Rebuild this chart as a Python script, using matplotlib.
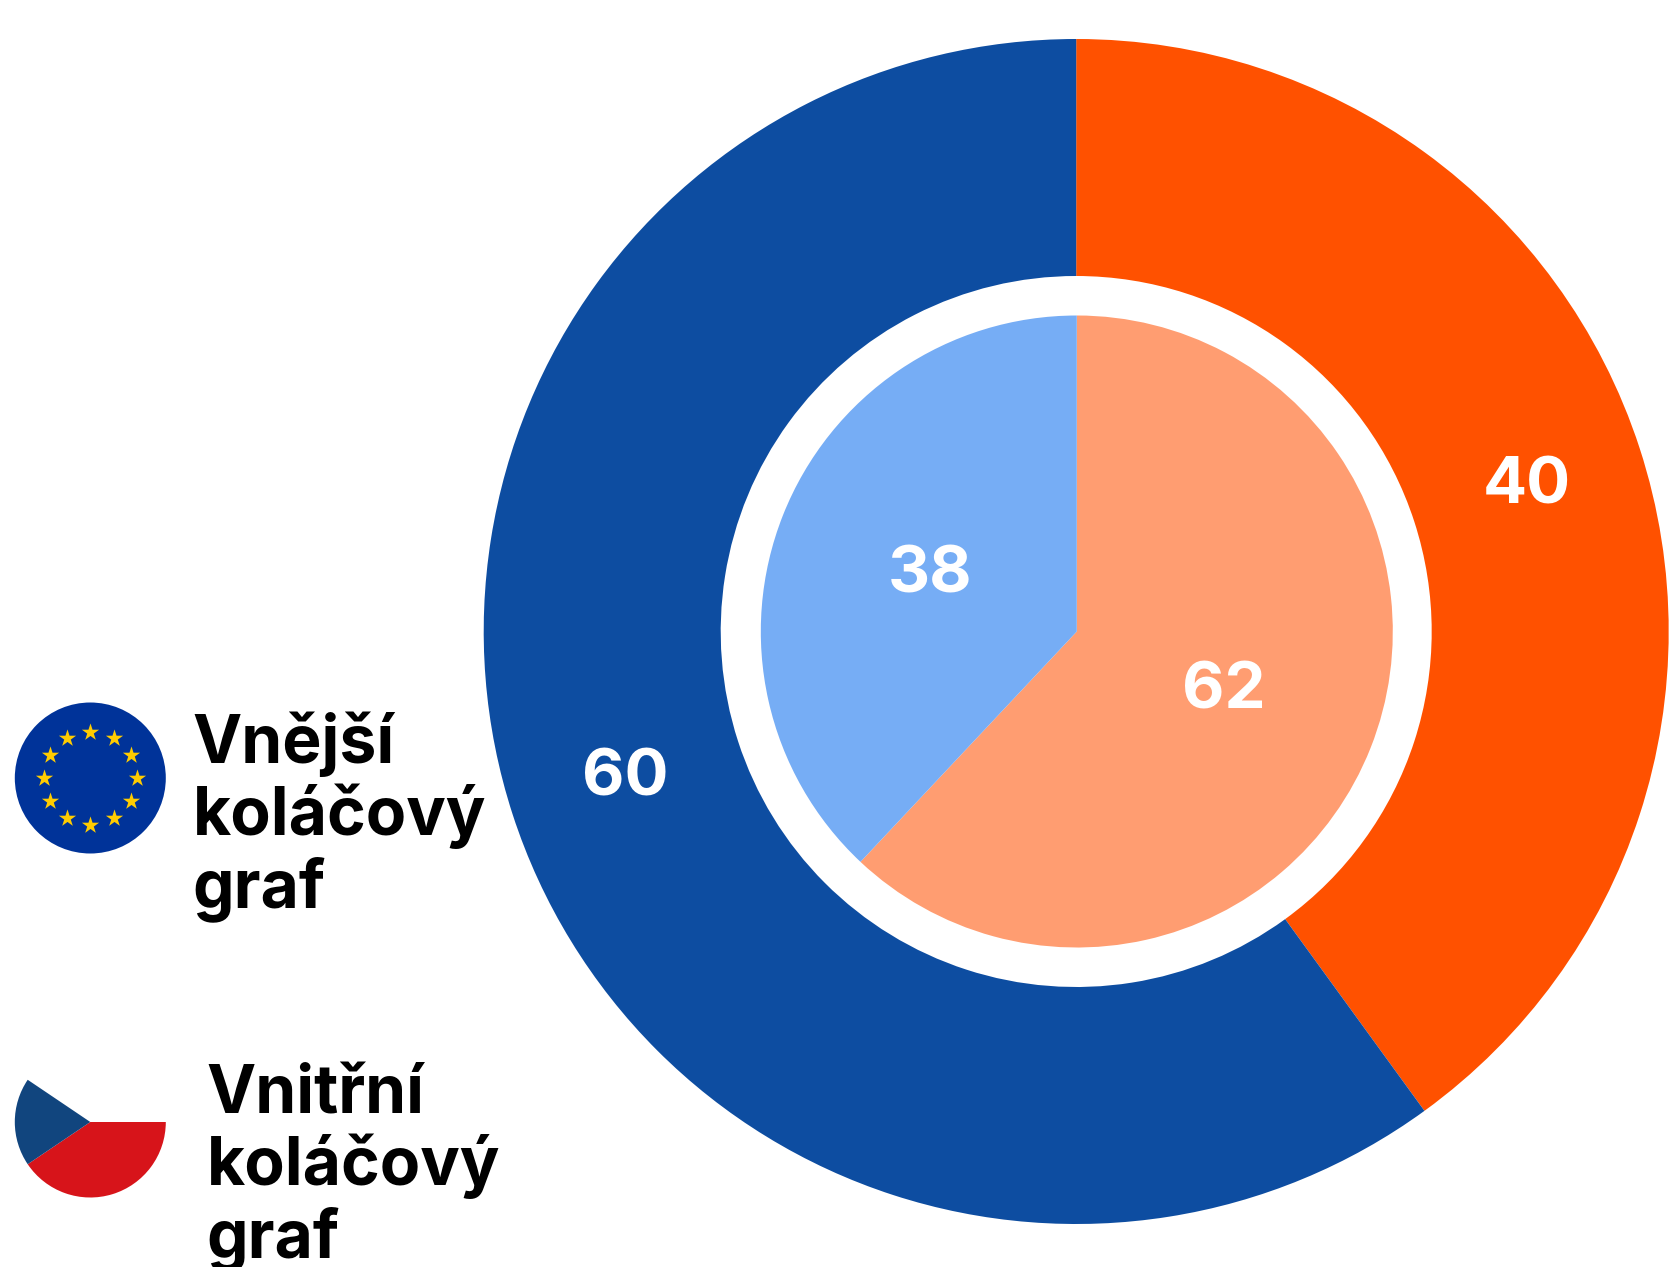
import numpy as np
import matplotlib
matplotlib.use('Agg')
import matplotlib.pyplot as plt
from matplotlib.patches import Circle, Wedge

W, H = 1669, 1267

outer_values = [40, 60]
outer_colors = ['#FF5100', '#0D4DA1']
inner_values = [62, 38]
inner_colors = ['#FF9D71', '#76ADF5']
eu_label = ['Vnější', 'koláčový', 'graf']
cz_label = ['Vnitřní', 'koláčový', 'graf']

plt.rcParams['font.family'] = ['Inter', 'DejaVu Sans']

fig = plt.figure(figsize=(W / 100, H / 100), dpi=100)
ax = fig.add_axes([0, 0, 1, 1])

# y counts up in matplotlib, so flip the pixel positions
center = (1076.2, H - 631.5)
inner_center = (1076.8, H - 631.5)

# outer ring
_, _, outer_texts = ax.pie(outer_values, colors=outer_colors, startangle=90, counterclock=False,
                           center=center, radius=592.5, wedgeprops={'width': 592.5 - 355.5},
                           autopct=lambda p: f'{p:.0f}', pctdistance=0.8,
                           textprops={'color': 'white', 'fontsize': 47, 'fontweight': 'bold'})
# inner pie
_, _, inner_texts = ax.pie(inner_values, colors=inner_colors, startangle=90, counterclock=False,
                           center=inner_center, radius=316,
                           autopct=lambda p: f'{p:.0f}', pctdistance=0.5,
                           textprops={'color': 'white', 'fontsize': 47, 'fontweight': 'bold'})

# the numbers sit a little lower in the reference
for t in outer_texts:
    x, y = t.get_position()
    t.set_position((x, y - 1))
for t in inner_texts:
    x, y = t.get_position()
    t.set_position((x, y - 2))

ax.set_xlim(0, W)
ax.set_ylim(0, H)
ax.set_aspect('equal')
ax.axis('off')

# EU flag
eu_x, eu_y = 90.3, H - 778
ax.add_patch(Circle((eu_x, eu_y), 75.5, color='#003399', lw=0))
star_angles = np.deg2rad(np.arange(0, 360, 30))
ax.scatter(eu_x + 46.5 * np.cos(star_angles), eu_y + 46.5 * np.sin(star_angles),
           marker='*', s=170, color='#FFCC00', linewidths=0, zorder=3)

# Czech flag
cz_x, cz_y = 90.3, H - 1122
ax.add_patch(Wedge((cz_x, cz_y), 75.5, 214, 360, color='#D7141A', lw=0))
ax.add_patch(Wedge((cz_x, cz_y), 75.5, 146, 214, color='#11457E', lw=0))

# one text per line, the line pitch is 72 px
for i, line in enumerate(eu_label):
    ax.text(192.5, H - 763 - 72 * i, line, fontsize=47.5, fontweight='bold', color='black',
            va='baseline', ha='left')
for i, line in enumerate(cz_label):
    ax.text(206.5, H - 1113 - 72 * i, line, fontsize=47.5, fontweight='bold', color='black',
            va='baseline', ha='left')

fig.savefig('out.png', dpi=100)
